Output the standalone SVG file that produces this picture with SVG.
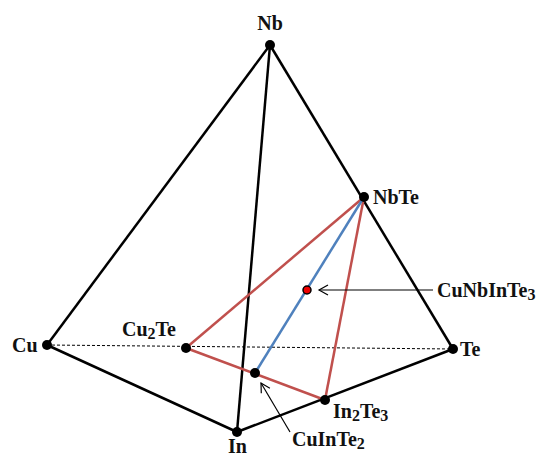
<svg xmlns="http://www.w3.org/2000/svg" width="545" height="456" viewBox="0 0 545 456">
<style>
text{font-family:"Liberation Serif","Times New Roman",serif;font-weight:bold;font-size:20px;fill:#111}
.e{stroke:#000;stroke-width:2.5;fill:none}
.d{stroke:#000;stroke-width:1;stroke-dasharray:3,2;fill:none}
.r{stroke:#c0504d;stroke-width:2.5;fill:none}
.b{stroke:#4f81bd;stroke-width:2.5;fill:none}
.a{stroke:#000;stroke-width:1.2;fill:none}
.n{fill:#000}
</style>
<defs>
<marker id="ah" markerWidth="12" markerHeight="12" refX="10" refY="6" orient="auto" markerUnits="userSpaceOnUse">
<path d="M1,1 L10,6 L1,11" fill="none" stroke="#000" stroke-width="1.2"/>
</marker>
</defs>
<rect width="545" height="456" fill="#fff"/>
<g id="connectors">
<line class="d" x1="47" y1="345" x2="453" y2="349"/>
<line class="e" x1="270" y1="45" x2="47" y2="345"/>
<line class="e" x1="270" y1="45" x2="237" y2="432"/>
<line class="e" x1="270" y1="45" x2="453" y2="349"/>
<line class="e" x1="47" y1="345" x2="237" y2="432"/>
<line class="e" x1="237" y1="432" x2="453" y2="349"/>
<line class="r" x1="364" y1="197" x2="186" y2="348"/>
<line class="r" x1="186" y1="348" x2="325" y2="400"/>
<line class="r" x1="325" y1="400" x2="364" y2="197"/>
<line class="b" x1="364" y1="197" x2="255" y2="373"/>
<line class="a" x1="433" y1="290" x2="319" y2="290" marker-end="url(#ah)"/>
<line class="a" x1="290" y1="432" x2="261" y2="383" marker-end="url(#ah)"/>
</g>
<g id="Nb"><circle class="n" cx="270" cy="45" r="5"/><text x="270" y="30" text-anchor="middle">Nb</text></g>
<g id="NbTe"><circle class="n" cx="364" cy="197" r="5"/><text x="373" y="204">NbTe</text></g>
<g id="Te"><circle class="n" cx="453" cy="349" r="5"/><text x="460" y="356">Te</text></g>
<g id="Cu"><circle class="n" cx="47" cy="345" r="5"/><text x="12" y="352">Cu</text></g>
<g id="Cu2Te"><circle class="n" cx="186" cy="348" r="5"/><text x="122" y="336">Cu<tspan font-size="16" dy="3">2</tspan><tspan dy="-3">Te</tspan></text></g>
<g id="In"><circle class="n" cx="237" cy="432" r="5"/><text x="228" y="453">In</text></g>
<g id="In2Te3"><circle class="n" cx="325" cy="400" r="5"/><text x="333" y="418">In<tspan font-size="16" dy="3">2</tspan><tspan dy="-3">Te</tspan><tspan font-size="16" dy="3">3</tspan></text></g>
<g id="CuInTe2"><circle class="n" cx="255" cy="373" r="5"/><text x="292" y="446">CuInTe<tspan font-size="16" dy="3">2</tspan></text></g>
<g id="CuNbInTe3"><circle cx="307" cy="290" r="4" fill="#e00" stroke="#000" stroke-width="1.5"/><text x="437" y="297">CuNbInTe<tspan font-size="16" dy="3">3</tspan></text></g>
</svg>
